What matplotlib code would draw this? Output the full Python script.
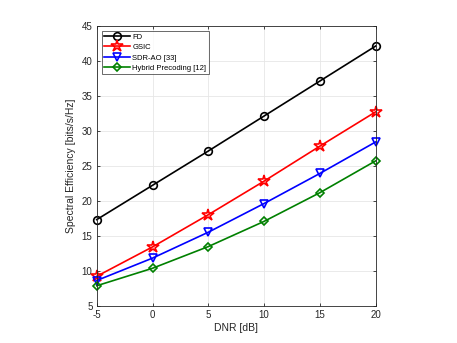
import matplotlib
matplotlib.use("Agg")
import matplotlib.pyplot as plt

plt.rcParams['font.family'] = ['Liberation Sans', 'DejaVu Sans']
plt.rcParams['axes.unicode_minus'] = False

dnr = [-5, 0, 5, 10, 15, 20]
fd = [17.3, 22.2, 27.1, 32.1, 37.1, 42.1]
gsic = [9.2, 13.4, 18.0, 22.8, 27.8, 32.7]
sdr_ao = [8.6, 11.8, 15.5, 19.6, 23.9, 28.4]
hybrid = [7.85, 10.35, 13.45, 17.05, 21.15, 25.7]

labels = ['FD', 'GSIC', 'SDR-AO [33]', 'Hybrid Precoding [12]']
colors = ['black', 'red', 'blue', 'green']
markers = ['o', '*', 'v', 'D']
msizes = [5.5, 9, 5.5, 4.5]
series = [fd, gsic, sdr_ao, hybrid]

fig = plt.figure(figsize=(4.57, 3.43), dpi=100)
ax = fig.add_axes([0.2116, 0.1087, 0.6105, 0.8163])

for y, c, m, ms, lab in zip(series, colors, markers, msizes, labels):
    ax.plot(dnr, y, color=c, marker=m, markersize=ms,
            markerfacecolor='none', markeredgewidth=1.2, linewidth=1.2, label=lab,
            clip_on=False)

ax.set_xlim(-5, 20)
ax.set_ylim(5, 45)
ax.set_xticks([-5, 0, 5, 10, 15, 20])
ax.set_yticks(range(5, 46, 5))
ax.grid(True, color='#e6e6e6', linewidth=0.6)
ax.set_axisbelow(True)
for s in ax.spines.values():
    s.set_color('#262626')
    s.set_linewidth(0.6)
ax.tick_params(labelsize=7, colors='#262626', direction='in', length=2.5, width=0.6,
               top=True, right=True, pad=3)
ax.set_xlabel('DNR [dB]', fontsize=7.5, color='#262626', labelpad=2)
ax.set_ylabel('Spectral Efficiency [bits/s/Hz]', fontsize=7.5, color='#262626', labelpad=4)

leg = ax.legend(loc='upper left', fontsize=5.5, frameon=True, fancybox=False,
                edgecolor='#262626', borderpad=0.3, handlelength=3.4,
                handletextpad=0.25, labelspacing=0.4, borderaxespad=0.7)
leg.get_frame().set_linewidth(0.6)

fig.savefig('out.png', dpi=100)
